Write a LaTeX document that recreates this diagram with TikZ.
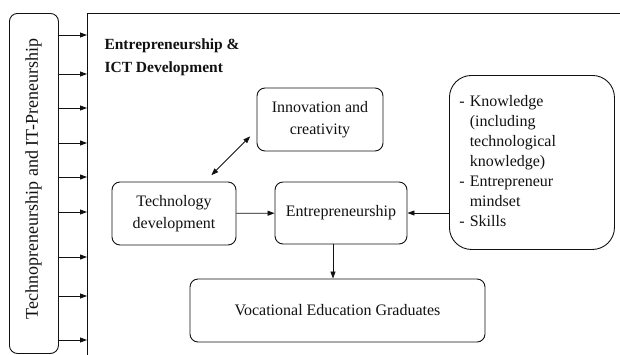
\documentclass[tikz,border=0pt]{standalone}
\usepackage{fontspec}
\setmainfont{Liberation Serif}
\usepackage{xcolor}
\usepackage{tikz}
\usetikzlibrary{arrows.meta}
\definecolor{ink}{HTML}{111111}
\tikzset{
  box/.style={draw=ink, line width=0.9pt, rounded corners=8pt, align=center, inner sep=2pt},
  bigbox/.style={box, rounded corners=22pt, align=left},
  arr/.style={draw=ink, line width=0.8pt, -{Triangle[length=7pt,width=5pt]}},
  arrr/.style={draw=ink, line width=0.8pt, {Triangle[length=7pt,width=5pt]}-{Triangle[length=7pt,width=5pt]}},
  lab/.style={text=ink, font=\fontsize{16}{22}\selectfont},
  labs/.style={text=ink, font=\fontsize{16}{20}\selectfont},
  head/.style={text=ink, font=\fontsize{15.5}{23}\selectfont\bfseries, align=left},
}
\begin{document}
\begin{tikzpicture}[x=1pt,y=-1pt]
  \useasboundingbox (0,0) rectangle (620,354);
  % outer frame and side bar
  \node[draw=ink, line width=0.9pt, minimum width=560pt, minimum height=360pt, anchor=north west, inner sep=0pt] (frame) at (87,13) {};
  \node[box, lab, minimum width=49pt, minimum height=340pt, anchor=north west] (side) at (9,13) {};
  \node[text=ink, font=\fontsize{18}{22}\selectfont, rotate=90] (sidetxt) at (33.5,179) {Technopreneurship and IT-Preneurship};
  \foreach \y in {35,74,108,143,177,212,257,296,340}
    \draw[arr] (side.east |- 0,\y) -- (frame.west |- 0,\y);
  \node[head, anchor=north west] (title) at (101,35) {Entrepreneurship \&\\ICT Development};
  % inner boxes
  \node[box, lab, minimum width=124pt, minimum height=63pt] (tech) at (174,213.5) {Technology\\development};
  \node[box, lab, minimum width=126pt, minimum height=63pt] (innov) at (320,119.5) {Innovation and\\creativity};
  \node[box, lab, minimum width=132pt, minimum height=62pt] (entre) at (341,213) {Entrepreneurship};
  \node[bigbox, labs, text width=145pt, minimum height=174pt, anchor=north west, inner xsep=10pt, inner ysep=8pt] (know) at (449,75)
    {\begin{tabular}{@{}l@{\hspace{5pt}}l@{}}
      - & Knowledge\\
        & (including\\
        & technological\\
        & knowledge)\\
      - & Entrepreneur\\
        & mindset\\
      - & Skills
    \end{tabular}};
  \node[box, lab, minimum width=295pt, minimum height=63pt] (voc) at (337.5,310.5) {Vocational Education Graduates};
  % connectors
  \draw[arrr, shorten <=9pt, shorten >=9pt] ([xshift=31pt]tech.north) -- ([yshift=-10.5pt]innov.west);
  \draw[arr] (tech) -- (entre);
  \draw[arr] (know.west |- entre) -- (entre);
  \draw[arr] ([xshift=-8pt]entre.south) -- ([xshift=-8pt]entre.south |- voc.north);
\end{tikzpicture}
\end{document}
